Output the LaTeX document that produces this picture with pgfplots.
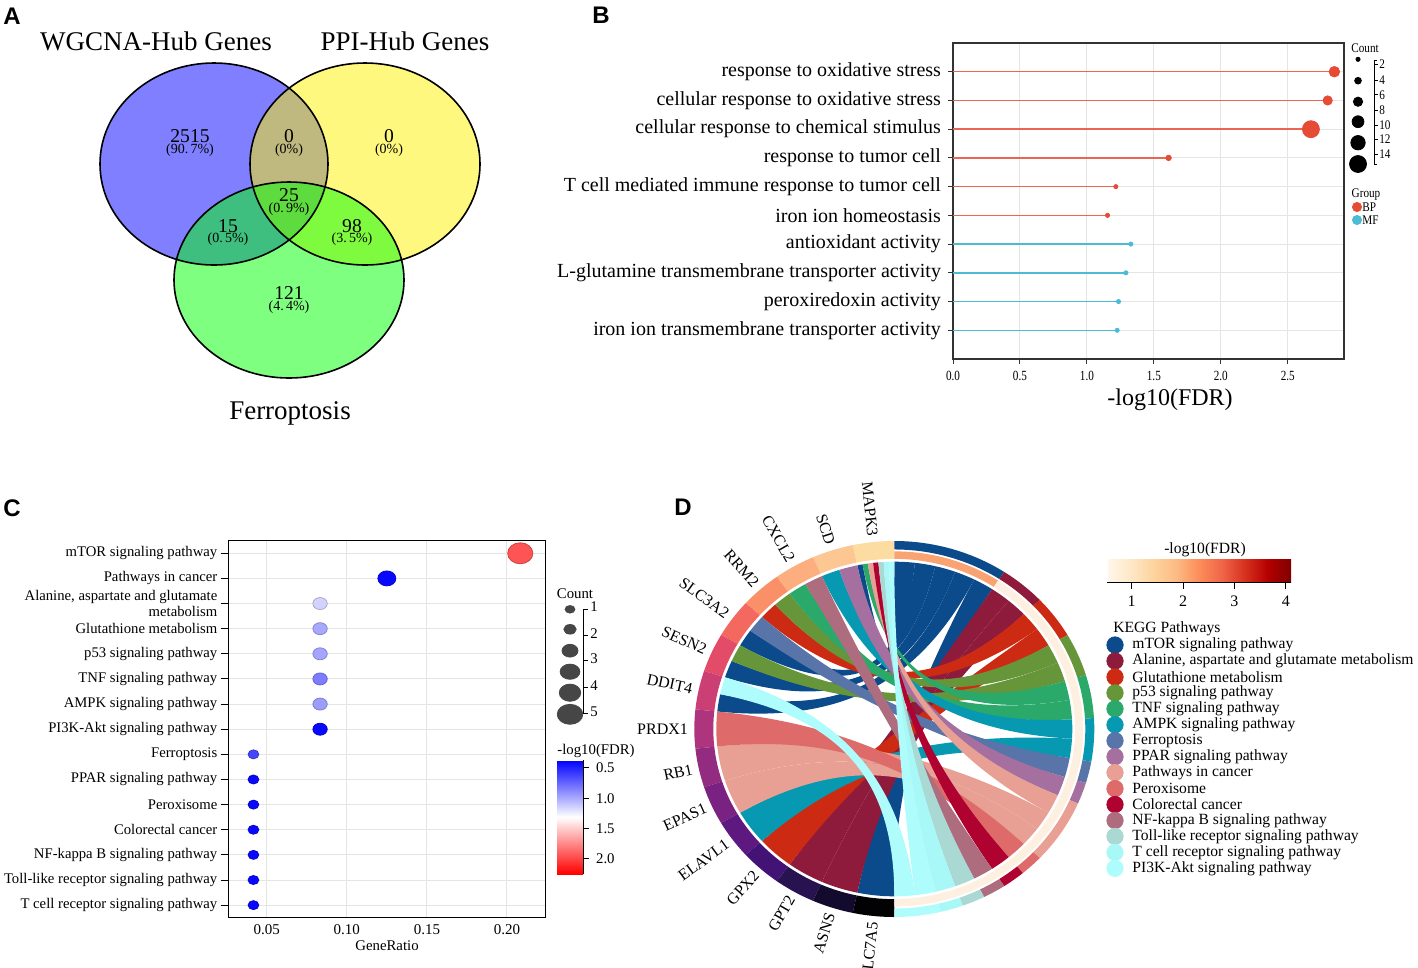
\documentclass[border=0pt]{standalone}
\usepackage{fontspec}
\setmainfont{Liberation Serif}
\newfontfamily\panelfont{Liberation Sans}
\usepackage{pgfplots}
\usepackage{pgfplotstable}
\pgfplotsset{compat=1.18}

\newcommand\fs[1]{\fontsize{#1}{#1}\selectfont}

% panel B groups
\definecolor{bpred}{HTML}{E64B35}
\definecolor{mfblue}{HTML}{4DBBD5}
% KEGG pathway colours (panel D)
\definecolor{kmtor}{HTML}{0B4A8B}
\definecolor{kala}{HTML}{8E1B3C}
\definecolor{kglu}{HTML}{CC2A12}
\definecolor{kp53}{HTML}{66953A}
\definecolor{ktnf}{HTML}{2AA96B}
\definecolor{kampk}{HTML}{0799B2}
\definecolor{kfer}{HTML}{5874A8}
\definecolor{kppar}{HTML}{A5709F}
\definecolor{kcan}{HTML}{E9A094}
\definecolor{kper}{HTML}{DF6A6A}
\definecolor{kcol}{HTML}{AF0230}
\definecolor{knfk}{HTML}{AE6D7E}
\definecolor{ktol}{HTML}{AAD8D2}
\definecolor{ktce}{HTML}{A9F8F8}
\definecolor{kpi3}{HTML}{AEFCFC}
% gene ring (panel D)
\definecolor{g0}{HTML}{FDDCA2}
\definecolor{g1}{HTML}{FDC794}
\definecolor{g2}{HTML}{FCAE7E}
\definecolor{g3}{HTML}{FA9068}
\definecolor{g4}{HTML}{F3685F}
\definecolor{g5}{HTML}{E24C68}
\definecolor{g6}{HTML}{CB3F74}
\definecolor{g7}{HTML}{AE347D}
\definecolor{g8}{HTML}{932B81}
\definecolor{g9}{HTML}{7A2282}
\definecolor{g10}{HTML}{5E1981}
\definecolor{g11}{HTML}{431275}
\definecolor{g12}{HTML}{281250}
\definecolor{g13}{HTML}{120B2E}
\definecolor{g14}{HTML}{020204}
\definecolor{fdrhi}{HTML}{F9A272}
\definecolor{fdrlo}{HTML}{FDF0E0}
\definecolor{cntgray}{HTML}{464646}

\pgfplotsset{
  colormap={bwr}{rgb255=(0,0,255) rgb255=(255,255,255) rgb255=(255,0,0)},
  colormap={orrd}{rgb255=(255,247,236) rgb255=(254,232,200) rgb255=(253,212,158) rgb255=(253,187,132) rgb255=(252,141,89) rgb255=(239,101,72) rgb255=(215,48,31) rgb255=(179,0,0) rgb255=(127,0,0)},
}

% panel B: GO terms
\pgfplotstableread{
row fdr count
1 2.848 7
2 2.798 6
3 2.673 12
4 1.610 3
5 1.216 2
6 1.154 2
}\goBP
\pgfplotstableread{
row fdr count
7 1.328 2
8 1.291 2
9 1.236 2
10 1.226 2
}\goMF

% panel C: KEGG (GeneRatio = count/24)
\pgfplotstableread{
row ratio count fdr
1 0.2083 5 1.94
2 0.1250 3 0.40
3 0.0833 2 1.15
4 0.0833 2 0.99
5 0.0833 2 0.98
6 0.0833 2 0.83
7 0.0833 2 0.95
8 0.0833 2 0.40
9 0.0417 1 0.63
10 0.0417 1 0.40
11 0.0417 1 0.40
12 0.0417 1 0.40
13 0.0417 1 0.40
14 0.0417 1 0.40
15 0.0417 1 0.40
}\keggC

% chord helpers, angles in degrees clockwise from the top
\def\Rc{0.89}
\def\Rb{0.27}
\newcommand\seg[5]{% colour, from, to, inner r, outer r
  \fill[#1] (axis cs:{#5*sin(#2)},{#5*cos(#2)})
  \foreach \k in {1,...,24}{ -- (axis cs:{#5*sin(#2+(#3-#2)*\k/24)},{#5*cos(#2+(#3-#2)*\k/24)}) }
  \foreach \k in {0,...,24}{ -- (axis cs:{#4*sin(#3-(#3-#2)*\k/24)},{#4*cos(#3-(#3-#2)*\k/24)}) } -- cycle;}
\newcommand\ribbon[5]{% colour, pathway from/to, gene from/to
  \fill[#1] (axis cs:{\Rc*sin(#2)},{\Rc*cos(#2)})
  \foreach \k in {1,...,10}{ -- (axis cs:{\Rc*sin(#2+(#3-#2)*\k/10)},{\Rc*cos(#2+(#3-#2)*\k/10)}) }
  .. controls (axis cs:{\Rb*sin(#3)},{\Rb*cos(#3)}) and (axis cs:{\Rb*sin(#4)},{\Rb*cos(#4)}) .. (axis cs:{\Rc*sin(#4)},{\Rc*cos(#4)})
  \foreach \k in {1,...,10}{ -- (axis cs:{\Rc*sin(#4+(#5-#4)*\k/10)},{\Rc*cos(#4+(#5-#4)*\k/10)}) }
  .. controls (axis cs:{\Rb*sin(#5)},{\Rb*cos(#5)}) and (axis cs:{\Rb*sin(#2)},{\Rb*cos(#2)}) .. (axis cs:{\Rc*sin(#2)},{\Rc*cos(#2)}) -- cycle;}
\newcommand\glab[2]{\node[font=\fs{8}, rotate={#1-90}, anchor=east, inner sep=1pt] at (axis cs:{1.02*sin(360-#1)},{1.02*cos(360-#1)}) {#2};}
\newcommand\kleg[3]{\addplot[only marks, mark=*, mark size=4.1pt, color=#1] coordinates {(1115,#2)};
  \node[anchor=west, inner sep=0pt, font=\fs{7.8}] at (axis cs:1132,#2) {#3};}

\begin{document}
\begin{tikzpicture}[x=0.5pt,y=-0.5pt]
\path[use as bounding box] (0,0) rectangle (1418,968);

% ---------- canvas in pixel units: Venn, legends, titles ----------
\begin{axis}[at={(0pt,0pt)}, anchor=north west, scale only axis, width=709pt, height=484pt,
  xmin=0, xmax=1418, ymin=0, ymax=968, y dir=reverse, hide axis, clip=false]
% Venn
\fill[blue, fill opacity=0.5] (axis cs:214,164) ellipse [x radius=114, y radius=101];
\fill[yellow, fill opacity=0.5] (axis cs:365,164) ellipse [x radius=115, y radius=101];
\fill[green, fill opacity=0.5] (axis cs:289,280) ellipse [x radius=115, y radius=98];
\draw[line width=0.8pt] (axis cs:214,164) ellipse [x radius=114, y radius=101];
\draw[line width=0.8pt] (axis cs:365,164) ellipse [x radius=115, y radius=101];
\draw[line width=0.8pt] (axis cs:289,280) ellipse [x radius=115, y radius=98];
\node[font=\fs{13.5}] at (axis cs:156,41) {WGCNA-Hub Genes};
\node[font=\fs{13.5}] at (axis cs:405,41) {PPI-Hub Genes};
\node[font=\fs{13.5}] at (axis cs:290,413) {Ferroptosis};
\node[font=\fs{9.8}] at (axis cs:190,136) {2515};
\node[font=\fs{7}] at (axis cs:190,150) {(90.\,7\%)};
\node[font=\fs{9.8}] at (axis cs:289,136) {0};
\node[font=\fs{7}] at (axis cs:289,150) {(0\%)};
\node[font=\fs{9.8}] at (axis cs:389,136) {0};
\node[font=\fs{7}] at (axis cs:389,150) {(0\%)};
\node[font=\fs{9.8}] at (axis cs:289,195) {25};
\node[font=\fs{7}] at (axis cs:289,209) {(0.\,9\%)};
\node[font=\fs{9.8}] at (axis cs:228,226) {15};
\node[font=\fs{7}] at (axis cs:228,239) {(0.\,5\%)};
\node[font=\fs{9.8}] at (axis cs:352,226) {98};
\node[font=\fs{7}] at (axis cs:352,239) {(3.\,5\%)};
\node[font=\fs{9.8}] at (axis cs:289,293) {121};
\node[font=\fs{7}] at (axis cs:289,307) {(4.\,4\%)};
% panel letters
\node[font=\panelfont\bfseries\fs{12}] at (axis cs:12,16) {A};
\node[font=\panelfont\bfseries\fs{12}] at (axis cs:601,15) {B};
\node[font=\panelfont\bfseries\fs{12}] at (axis cs:12,508) {C};
\node[font=\panelfont\bfseries\fs{12}] at (axis cs:683,507) {D};
% axis titles
\node[font=\fs{12}] at (axis cs:1170,400) {-log10(FDR)};
\node[font=\fs{7.4}] at (axis cs:387,946) {GeneRatio};
% panel B legend
\node[font=\fs{6.6}, xscale=0.85] at (axis cs:1365,48) {Count};
\addplot[only marks, mark=*, black, mark size=1.04pt] coordinates {(1358,59.3)};
\addplot[only marks, mark=*, black, mark size=1.68pt] coordinates {(1358,80.7)};
\addplot[only marks, mark=*, black, mark size=2.32pt] coordinates {(1358,101.7)};
\addplot[only marks, mark=*, black, mark size=2.96pt] coordinates {(1358,121.7)};
\addplot[only marks, mark=*, black, mark size=3.6pt] coordinates {(1358,142.7)};
\addplot[only marks, mark=*, black, mark size=4.24pt] coordinates {(1358,164)};
\draw[line width=0.45pt] (axis cs:1377,60.7) -- (axis cs:1374,60.7) -- (axis cs:1374,164) -- (axis cs:1377,164)
  \foreach \t in {64.3,80,94.7,110,125,139.5,154}{ (axis cs:1374,\t) -- (axis cs:1378,\t) };
\node[font=\fs{6.6}, xscale=0.85, anchor=west, inner sep=0pt] at (axis cs:1379,64.3) {2};
\node[font=\fs{6.6}, xscale=0.85, anchor=west, inner sep=0pt] at (axis cs:1379,80) {4};
\node[font=\fs{6.6}, xscale=0.85, anchor=west, inner sep=0pt] at (axis cs:1379,94.7) {6};
\node[font=\fs{6.6}, xscale=0.85, anchor=west, inner sep=0pt] at (axis cs:1379,110) {8};
\node[font=\fs{6.6}, xscale=0.85, anchor=west, inner sep=0pt] at (axis cs:1379,125) {10};
\node[font=\fs{6.6}, xscale=0.85, anchor=west, inner sep=0pt] at (axis cs:1379,139.5) {12};
\node[font=\fs{6.6}, xscale=0.85, anchor=west, inner sep=0pt] at (axis cs:1379,154) {14};
\node[font=\fs{6.6}, xscale=0.85] at (axis cs:1366,195) {Group};
\addplot[only marks, mark=*, bpred, mark size=2.3pt] coordinates {(1357,207)};
\addplot[only marks, mark=*, mfblue, mark size=2.3pt] coordinates {(1357,220)};
\node[font=\fs{6.6}, xscale=0.85, anchor=west, inner sep=0pt] at (axis cs:1362,207) {BP};
\node[font=\fs{6.6}, xscale=0.85, anchor=west, inner sep=0pt] at (axis cs:1362,220) {MF};
% panel C legend
\node[font=\fs{7.4}] at (axis cs:575,594) {Count};
\addplot[only marks, mark=*, cntgray, mark size=1.9pt, mark options={xscale=1.3}] coordinates {(570,609.3)};
\addplot[only marks, mark=*, cntgray, mark size=2.4pt, mark options={xscale=1.3}] coordinates {(570,629.3)};
\addplot[only marks, mark=*, cntgray, mark size=3.2pt, mark options={xscale=1.25}] coordinates {(570,650.7)};
\addplot[only marks, mark=*, cntgray, mark size=3.8pt, mark options={xscale=1.3}] coordinates {(570,671.7)};
\addplot[only marks, mark=*, cntgray, mark size=4.3pt, mark options={xscale=1.25}] coordinates {(570,692.7)};
\addplot[only marks, mark=*, cntgray, mark size=5pt, mark options={xscale=1.28}] coordinates {(570,714.3)};
\draw[line width=0.45pt] (axis cs:583.3,609) -- (axis cs:583.3,714)
  \foreach \t in {609,635,660,687,713}{ (axis cs:583.3,\t) -- (axis cs:588,\t) };
\node[font=\fs{7.4}, anchor=west, inner sep=0pt] at (axis cs:590,607) {1};
\node[font=\fs{7.4}, anchor=west, inner sep=0pt] at (axis cs:590,634) {2};
\node[font=\fs{7.4}, anchor=west, inner sep=0pt] at (axis cs:590,659) {3};
\node[font=\fs{7.4}, anchor=west, inner sep=0pt] at (axis cs:590,686) {4};
\node[font=\fs{7.4}, anchor=west, inner sep=0pt] at (axis cs:590,712) {5};
\node[font=\fs{7.4}] at (axis cs:596,751) {-log10(FDR)};
% panel D legend
\node[font=\fs{7.8}] at (axis cs:1205,550) {-log10(FDR)};
\node[font=\fs{7.8}, anchor=west, inner sep=0pt] at (axis cs:1113,629) {KEGG Pathways};
\kleg{kmtor}{645}{mTOR signaling pathway}
\kleg{kala}{661}{Alanine, aspartate and glutamate metabolism}
\kleg{kglu}{677}{Glutathione metabolism}
\kleg{kp53}{692.9}{p53 signaling pathway}
\kleg{ktnf}{708.8}{TNF signaling pathway}
\kleg{kampk}{724.8}{AMPK signaling pathway}
\kleg{kfer}{740.7}{Ferroptosis}
\kleg{kppar}{756.7}{PPAR signaling pathway}
\kleg{kcan}{772.6}{Pathways in cancer}
\kleg{kper}{788.6}{Peroxisome}
\kleg{kcol}{804.5}{Colorectal cancer}
\kleg{knfk}{820.5}{NF-kappa B signaling pathway}
\kleg{ktol}{836.4}{Toll-like receptor signaling pathway}
\kleg{ktce}{852.4}{T cell receptor signaling pathway}
\kleg{kpi3}{868.3}{PI3K-Akt signaling pathway}
\end{axis}

% ---------- panel B: GO lollipop ----------
\begin{axis}[at={(476.5pt,-21.5pt)}, anchor=north west, scale only axis, width=195.5pt, height=158pt,
  xmin=0, xmax=2.92, ymin=0, ymax=11, y dir=reverse,
  xtick={0,0.5,1,1.5,2,2.5}, ytick={1,...,10},
  yticklabels={response to oxidative stress, cellular response to oxidative stress,
    cellular response to chemical stimulus, response to tumor cell,
    T cell mediated immune response to tumor cell, iron ion homeostasis,
    antioxidant activity, L-glutamine transmembrane transporter activity,
    peroxiredoxin activity, iron ion transmembrane transporter activity},
  grid=major, grid style={gray!20, line width=0.5pt},
  axis line style={black!80, line width=0.6pt},
  tick align=outside, major tick length=2.5pt, xtick pos=bottom, ytick pos=left,
  tick style={black!80, line width=0.5pt},
  yticklabel style={font=\fs{10}},
  xticklabel style={font=\fs{7}, xscale=0.8, /pgf/number format/fixed,
    /pgf/number format/fixed zerofill, /pgf/number format/precision=1},
  /pgf/number format/assume math mode=true]
\addplot[xcomb, draw=bpred!85, line width=0.7pt] table[x=fdr, y=row] {\goBP};
\addplot[xcomb, draw=mfblue, line width=0.7pt] table[x=fdr, y=row] {\goMF};
\addplot[scatter, only marks, mark=*, scatter/use mapped color={draw=bpred, fill=bpred},
  visualization depends on={\thisrow{count} \as \cnt},
  scatter/@pre marker code/.append style={/tikz/mark size={0.4+0.32*\cnt}}]
  table[x=fdr, y=row] {\goBP};
\addplot[scatter, only marks, mark=*, scatter/use mapped color={draw=mfblue, fill=mfblue},
  visualization depends on={\thisrow{count} \as \cnt},
  scatter/@pre marker code/.append style={/tikz/mark size={0.4+0.32*\cnt}}]
  table[x=fdr, y=row] {\goMF};
\end{axis}

% ---------- panel C: KEGG dot plot ----------
\begin{axis}[at={(114.15pt,-270.35pt)}, anchor=north west, scale only axis, width=158.4pt, height=188.5pt,
  xmin=0.026, xmax=0.2238, ymin=0.5, ymax=15.5, y dir=reverse,
  xtick={0.05,0.1,0.15,0.2}, ytick={1,...,15},
  yticklabels={mTOR signaling pathway, Pathways in cancer,
    {Alanine, aspartate and glutamate\\metabolism}, Glutathione metabolism,
    p53 signaling pathway, TNF signaling pathway, AMPK signaling pathway,
    PI3K-Akt signaling pathway, Ferroptosis, PPAR signaling pathway, Peroxisome,
    Colorectal cancer, NF-kappa B signaling pathway,
    Toll-like receptor signaling pathway, T cell receptor signaling pathway},
  grid=major, grid style={gray!20, line width=0.5pt},
  axis line style={black, line width=0.5pt},
  tick align=outside, xtick pos=bottom, ytick pos=left,
  xtick style={draw=none}, ytick style={black, line width=0.5pt}, major tick length=3.8pt,
  xticklabel shift=-3.8pt,
  yticklabel style={font=\fontsize{7.35}{6.6}\selectfont, align=right, inner sep=1.5pt},
  xticklabel style={font=\fs{7.5}, /pgf/number format/fixed,
    /pgf/number format/fixed zerofill, /pgf/number format/precision=2},
  /pgf/number format/assume math mode=true,
  colormap name=bwr, point meta min=0.37, point meta max=2.25]
\addplot[scatter, only marks, mark=*, point meta=explicit,
  visualization depends on={\thisrow{count} \as \cnt},
  scatter/@pre marker code/.append style={/tikz/mark size={1.5+0.75*\cnt}, /tikz/xscale=1.2}]
  table[x=ratio, y=row, meta=fdr] {\keggC};
\end{axis}

% colour bar of panel C (the colour bar sits 0.3cm to the right of its parent)
\begin{axis}[at={(270pt,-380pt)}, anchor=north west, scale only axis, width=13pt, height=57pt,
  hide axis, xmin=0, xmax=1, ymin=0, ymax=1,
  colormap name=bwr, point meta min=0.37, point meta max=2.25,
  colorbar, colorbar style={at={(parent axis.north west)}, anchor=north west,
    width=13pt, height=57pt, scale only axis, y dir=reverse,
    ytick={0.5,1,1.5,2}, ytick pos=right, tick align=outside, major tick length=3pt,
    tick style={black, line width=0.5pt},
    axis line style={draw=none},
    extra description/.code={\draw[line width=0.5pt] (1,0) -- (1,1);},
    yticklabel style={font=\fs{7.4}},
    /pgf/number format/fixed, /pgf/number format/fixed zerofill,
    /pgf/number format/precision=1, /pgf/number format/assume math mode=true}]
\addplot[draw=none] coordinates {(0,0)};
\end{axis}

% colour bar of panel D (the colour bar sits 0.3cm below its parent)
\begin{axis}[at={(553.5pt,-271pt)}, anchor=north west, scale only axis, width=92pt, height=11.8pt,
  hide axis, xmin=0, xmax=1, ymin=0, ymax=1,
  colormap name=orrd, point meta min=0.52, point meta max=4.1,
  colorbar horizontal, colorbar style={at={(parent axis.north west)}, anchor=north west,
    width=92pt, height=11.8pt, scale only axis,
    xtick={1,2,3,4}, xtick pos=bottom, tick align=outside, major tick length=3pt,
    tick style={black, line width=0.5pt},
    axis line style={draw=none},
    extra description/.code={\draw[line width=0.5pt] (0,0) -- (1,0);},
    xticklabel style={font=\fs{8}},
    /pgf/number format/assume math mode=true}]
\addplot[draw=none] coordinates {(0,0)};
\end{axis}

% ---------- panel D: chord diagram ----------
\begin{axis}[at={(447.15pt,-364.5pt)}, anchor=center, scale only axis, width=200pt, height=188pt,
  xmin=-1, xmax=1, ymin=-1, ymax=1, hide axis, clip=false]
% gene ring
\seg{g0}{348}{360}{0.905}{1}
\seg{g1}{336}{348}{0.905}{1}
\seg{g2}{324}{336}{0.905}{1}
\seg{g3}{312}{324}{0.905}{1}
\seg{g4}{300}{312}{0.905}{1}
\seg{g5}{288}{300}{0.905}{1}
\seg{g6}{276}{288}{0.905}{1}
\seg{g7}{264}{276}{0.905}{1}
\seg{g8}{252}{264}{0.905}{1}
\seg{g9}{240}{252}{0.905}{1}
\seg{g10}{228}{240}{0.905}{1}
\seg{g11}{216}{228}{0.905}{1}
\seg{g12}{204}{216}{0.905}{1}
\seg{g13}{192}{204}{0.905}{1}
\seg{g14}{180}{192}{0.905}{1}
% pathway ring and FDR ring
\seg{kmtor}{0}{33.333}{0.955}{1}
\seg{kala}{33.333}{46.667}{0.955}{1}
\seg{kglu}{46.667}{60}{0.955}{1}
\seg{kp53}{60}{73.333}{0.955}{1}
\seg{ktnf}{73.333}{86.667}{0.955}{1}
\seg{kampk}{86.667}{100}{0.955}{1}
\seg{kfer}{100}{106.667}{0.955}{1}
\seg{kppar}{106.667}{113.333}{0.955}{1}
\seg{kcan}{113.333}{133.333}{0.955}{1}
\seg{kper}{133.333}{140}{0.955}{1}
\seg{kcol}{140}{146.667}{0.955}{1}
\seg{knfk}{146.667}{153.333}{0.955}{1}
\seg{ktol}{153.333}{160}{0.955}{1}
\seg{ktce}{160}{166.667}{0.955}{1}
\seg{kpi3}{166.667}{180}{0.955}{1}
\seg{fdrhi}{0}{33.333}{0.905}{0.945}
\seg{fdrlo}{33.333}{180}{0.905}{0.945}
% links
\ribbon{kmtor}{0}{6.667}{348}{349.714}
\ribbon{kmtor}{6.667}{13.333}{300}{306}
\ribbon{kmtor}{13.333}{20}{288}{294}
\ribbon{kmtor}{20}{26.667}{276}{282}
\ribbon{kmtor}{26.667}{33.333}{180}{192}
\ribbon{kala}{33.333}{40}{204}{216}
\ribbon{kala}{40}{46.667}{192}{204}
\ribbon{kglu}{46.667}{53.333}{312}{318}
\ribbon{kglu}{53.333}{60}{216}{228}
\ribbon{kp53}{60}{66.667}{318}{324}
\ribbon{kp53}{66.667}{73.333}{294}{300}
\ribbon{ktnf}{73.333}{80}{349.714}{351.429}
\ribbon{ktnf}{80}{86.667}{324}{330}
\ribbon{kampk}{86.667}{93.333}{336}{342}
\ribbon{kampk}{93.333}{100}{228}{240}
\ribbon{kfer}{100}{106.667}{306}{312}
\ribbon{kppar}{106.667}{113.333}{342}{348}
\ribbon{kcan}{113.333}{120}{351.429}{353.143}
\ribbon{kcan}{120}{126.667}{252}{264}
\ribbon{kcan}{126.667}{133.333}{240}{252}
\ribbon{kper}{133.333}{140}{264}{276}
\ribbon{kcol}{140}{146.667}{353.143}{354.857}
\ribbon{knfk}{146.667}{153.333}{330}{336}
\ribbon{ktol}{153.333}{160}{354.857}{356.571}
\ribbon{ktce}{160}{166.667}{356.571}{358.286}
\ribbon{kpi3}{166.667}{173.333}{358.286}{360}
\ribbon{kpi3}{173.333}{180}{282}{288}
% gene names
\glab{6}{MAPK3}
\glab{18}{SCD}
\glab{30}{CXCL2}
\glab{42}{RRM2}
\glab{54}{SLC3A2}
\glab{66}{SESN2}
\glab{78}{DDIT4}
\glab{90}{PRDX1}
\glab{102}{RB1}
\glab{114}{EPAS1}
\glab{126}{ELAVL1}
\glab{138}{GPX2}
\glab{150}{GPT2}
\glab{162}{ASNS}
\glab{174}{SLC7A5}
\end{axis}
\end{tikzpicture}
\end{document}
